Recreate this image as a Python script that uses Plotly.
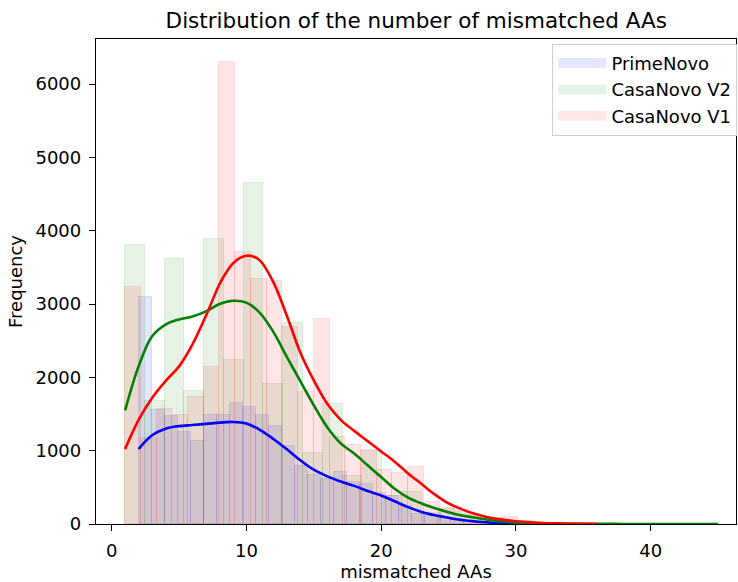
import plotly.graph_objects as go

# ---------------- data ----------------
n_bins = 30
series_names = ["PrimeNovo", "CasaNovo V2", "CasaNovo V1"]

# data ranges (min, max) of the mismatched-AA counts per model
prime_range = (2, 31)
v2_range = (1, 45)
v1_range = (1, 36)

# histogram counts (30 bins each)
prime_counts = [3090, 1560, 1469, 1250, 1127, 1492, 1492, 1655, 1600, 1492,
                1341, 1068, 795, 672, 617, 709, 567, 545, 420, 385,
                240, 130, 105, 75, 55, 35, 20, 10, 6, 3]
v2_counts = [3800, 1680, 3610, 1810, 3890, 2240, 4650, 1915, 2740, 970,
             1640, 650, 990, 385, 440, 150, 200, 120, 65, 20,
             16, 6, 5, 3, 3, 2, 2, 1, 1, 1]
v1_counts = [3230, 1170, 1570, 1490, 1730, 2140, 6300, 3710, 3336, 3320,
             2690, 1800, 2790, 1190, 1082, 1013, 730, 700, 772, 300,
             220, 160, 110, 80, 100, 35, 20, 12, 7, 6]

# KDE curves (scaled to counts)
prime_kde_x = [2, 3, 4, 5, 6, 7, 8, 9, 10, 11, 12, 13, 14, 15, 16, 17, 18, 19, 20,
               21, 22, 23, 24, 25, 26, 27, 28, 29, 30, 31]
prime_kde_y = [1023, 1210, 1300, 1335, 1350, 1365, 1382, 1392, 1370, 1285, 1160,
               1020, 870, 740, 650, 580, 520, 450, 390, 310, 230, 165, 120, 85,
               55, 35, 20, 10, 5, 2]
v2_kde_x = [1, 2, 3, 4, 5, 6, 7, 8, 9, 10, 11, 12, 13, 14, 15, 16, 17, 18, 19, 20,
            21, 22, 23, 24, 25, 26, 27, 28, 29, 30, 31, 32, 33, 34, 35, 36, 38,
            40, 42, 45]
v2_kde_y = [1550, 2150, 2560, 2720, 2790, 2830, 2900, 3000, 3045, 3020, 2880,
            2620, 2280, 1950, 1620, 1320, 1100, 960, 800, 640, 480, 360, 280,
            215, 160, 115, 85, 55, 35, 22, 14, 9, 6, 4, 3, 2, 1, 1, 0.5, 0.3]
v1_kde_x = [1, 2, 3, 4, 5, 6, 7, 8, 8.5, 9, 9.5, 10, 10.5, 11, 12, 13, 14, 15, 16,
            17, 18, 19, 20, 21, 22, 23, 24, 25, 26, 27, 28, 29, 30, 31, 32, 33,
            34, 35, 36]
v1_kde_y = [1023, 1420, 1720, 1950, 2150, 2450, 2840, 3270, 3430, 3555, 3625,
            3658, 3650, 3595, 3300, 2840, 2340, 1960, 1640, 1420, 1270, 1130,
            990, 850, 690, 545, 400, 280, 200, 135, 90, 60, 38, 25, 14, 8, 4,
            2, 1]

x_ticks = [0, 10, 20, 30, 40]
y_ticks = [0, 1000, 2000, 3000, 4000, 5000, 6000]

# ---------------- figure ----------------
FONT = "DejaVu Sans"


def bin_geometry(rng, n):
    lo, hi = rng
    w = (hi - lo) / n
    centers = [lo + (k + 0.5) * w for k in range(n)]
    return centers, w


fig = go.Figure()

hist_specs = [
    (series_names[0], prime_range, prime_counts, "0,0,255"),
    (series_names[1], v2_range, v2_counts, "0,128,0"),
    (series_names[2], v1_range, v1_counts, "255,0,0"),
]
for i, (name, rng, counts, rgb) in enumerate(hist_specs):
    centers, w = bin_geometry(rng, n_bins)
    fig.add_trace(go.Bar(
        x=centers, y=counts, width=w, name=name,
        legendgroup=f"g{i}", showlegend=False,
        marker=dict(color=f"rgba({rgb},0.1)",
                    line=dict(color=f"rgba({rgb},0.1)", width=1)),
        hoverinfo="skip",
    ))

kde_specs = [
    (prime_kde_x, prime_kde_y, "rgb(0,0,255)"),
    (v2_kde_x, v2_kde_y, "rgb(0,128,0)"),
    (v1_kde_x, v1_kde_y, "rgb(255,0,0)"),
]
for i, (xs, ys, col) in enumerate(kde_specs):
    fig.add_trace(go.Scatter(
        x=xs, y=ys, mode="lines", legendgroup=f"g{i}",
        line=dict(color=col, width=2.6, shape="spline", smoothing=1.0),
        showlegend=False, hoverinfo="skip",
    ))

# legend patches (matplotlib-style wide rectangles) for the histogram series
for i, (name, rng, counts, rgb) in enumerate(hist_specs):
    fig.add_trace(go.Scatter(
        x=[None], y=[None], mode="lines", name=name, legendgroup=f"g{i}",
        line=dict(color=f"rgba({rgb},0.1)", width=12),
        hoverinfo="skip",
    ))

axis_common = dict(
    showline=True, linecolor="black", linewidth=1.3, mirror=True,
    ticks="outside", ticklen=6, tickwidth=1.3, tickcolor="black",
    ticklabelstandoff=4,
    showgrid=False, zeroline=False,
    tickfont=dict(family=FONT, size=18, color="black"),
)

fig.update_layout(
    width=738, height=582,
    margin=dict(l=96, r=1, t=39, b=58),
    plot_bgcolor="white", paper_bgcolor="white",
    barmode="overlay", bargap=0,
    font=dict(family=FONT, size=18, color="black"),
    title=dict(text="Distribution of the number of mismatched AAs",
               x=0.564, xanchor="center", y=0.965, yanchor="middle",
               font=dict(family=FONT, size=21.5, color="black")),
    xaxis=dict(range=[-1.16, 46.33], tickvals=x_ticks,
               title=dict(text="mismatched AAs", standoff=6,
                          font=dict(family=FONT, size=18)),
               **axis_common),
    yaxis=dict(range=[0, 6615], tickvals=y_ticks,
               title=dict(text="Frequency", standoff=8,
                          font=dict(family=FONT, size=18)),
               **axis_common),
    legend=dict(x=0.712, xanchor="left", y=0.99, yanchor="top",
                bgcolor="white", bordercolor="#d0d0d0", borderwidth=1,
                itemwidth=48, traceorder="normal",
                font=dict(family=FONT, size=18, color="black"),
                tracegroupgap=0),
)

fig.write_html("out.html")
